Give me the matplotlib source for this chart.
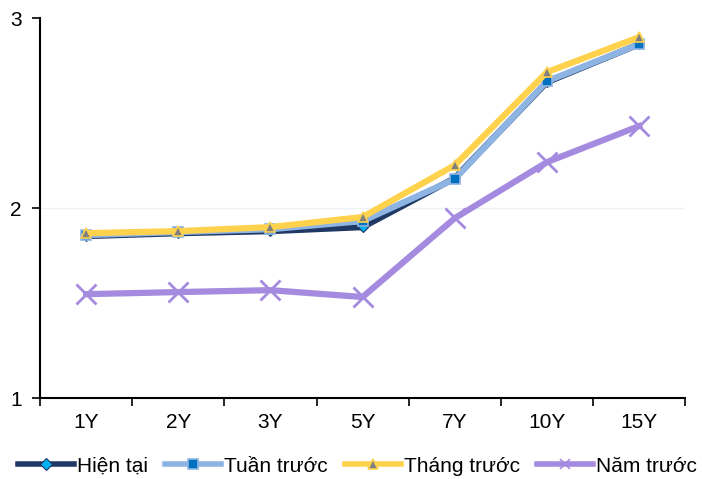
import numpy as np
import matplotlib.pyplot as plt

plt.rcParams['font.family'] = ['Liberation Sans', 'DejaVu Sans']

tenors = ['1Y', '2Y', '3Y', '5Y', '7Y', '10Y', '15Y']
hien_tai = [1.853, 1.868, 1.879, 1.900, 2.158, 2.663, 2.863]
tuan_truoc = [1.858, 1.874, 1.889, 1.932, 2.153, 2.668, 2.863]
thang_truoc = [1.868, 1.879, 1.900, 1.953, 2.226, 2.716, 2.900]
nam_truoc = [1.547, 1.558, 1.568, 1.532, 1.947, 2.242, 2.432]

fig = plt.figure(figsize=(7.02, 4.79), dpi=100)
ax = fig.add_axes([0.057, 0.169, 0.919, 0.793])
x = np.arange(len(tenors))

ax.axhline(2, color='#eef2f8', lw=1, zorder=0)

ax.plot(x, hien_tai, color='#1F3864', lw=4.5, marker='D', ms=5,
        mfc='#00B0F0', mec='#1F3864', mew=0.8, label='Hiện tại', zorder=3)
ax.plot(x, tuan_truoc, color='#8EB4E3', lw=4.5, marker='s', ms=7,
        mfc='#0070C0', mec='#8EB4E3', mew=1.2, label='Tuần trước', zorder=4)
ax.plot(x, thang_truoc, color='#FFD24D', lw=4.5, marker='^', ms=7,
        mfc='#7F7F7F', mec='#FFD24D', mew=1.2, label='Tháng trước', zorder=5)
ax.plot(x, nam_truoc, color='#A58BDF', lw=4.5, marker='x', ms=14,
        mew=2, label='Năm trước', zorder=2)

ax.set_xlim(-0.5, len(tenors) - 0.5)
ax.set_ylim(1, 3)
ax.set_yticks([1, 2, 3])
ax.set_xticks(x)
ax.set_xticklabels(tenors)
ax.set_xticks(np.arange(-0.5, len(tenors)), minor=True)
ax.tick_params(axis='x', which='major', length=0, pad=11, labelsize=15)
ax.tick_params(axis='x', which='minor', length=6, width=1.2, direction='out')
ax.tick_params(axis='y', length=6, width=1.2, pad=7, labelsize=15)

for s in ['top', 'right']:
    ax.spines[s].set_visible(False)
for s in ['left', 'bottom']:
    ax.spines[s].set_linewidth(1.5)

leg = fig.legend(*ax.get_legend_handles_labels(), loc='center',
                 bbox_to_anchor=(0.509, 0.027), ncol=4, frameon=False,
                 fontsize=15, handlelength=2.7, handletextpad=0.15,
                 columnspacing=0.8, borderaxespad=0, borderpad=0)
# smaller markers in the legend keys
for h, ms in zip(leg.legend_handles, [6, 7, 7, 7]):
    h.set_markersize(ms)
    h.set_linewidth(4)
leg.legend_handles[3].set_markeredgewidth(1.2)

fig.savefig('out.png', dpi=100)
